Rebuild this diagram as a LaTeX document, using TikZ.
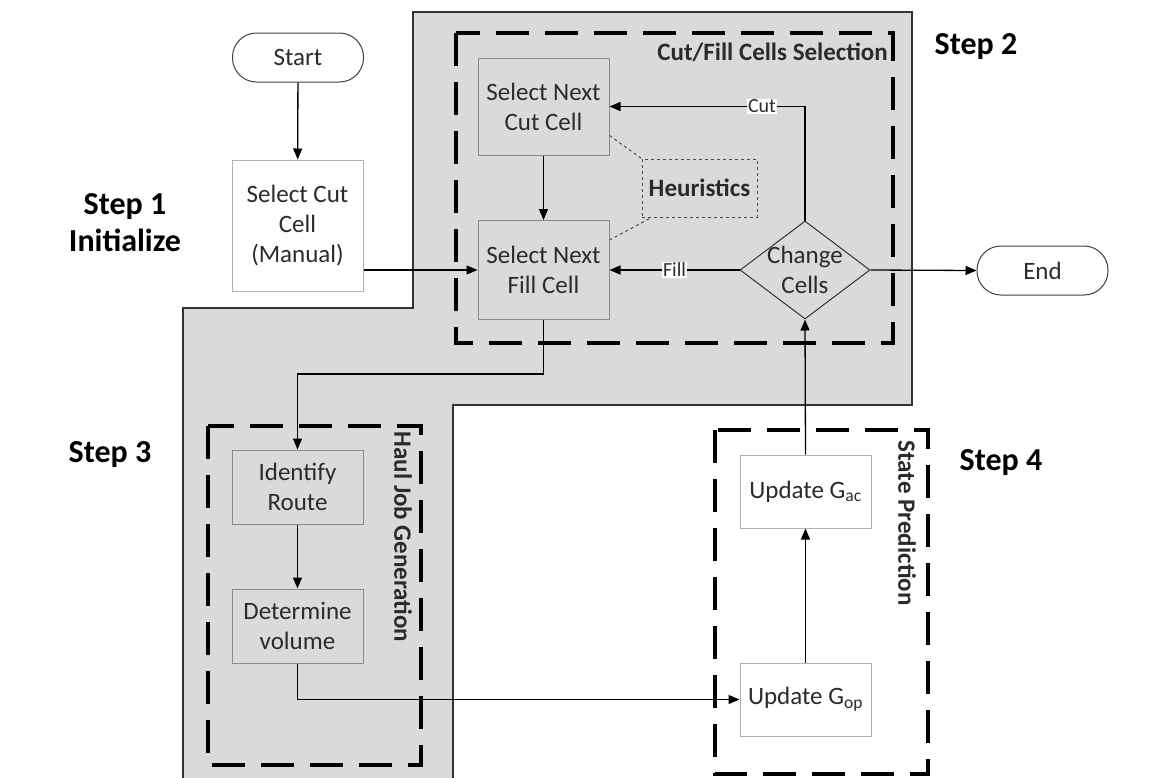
\documentclass[tikz,border=0pt]{standalone}
\usepackage{fontspec}
\setmainfont{Carlito}
\usetikzlibrary{arrows.meta,positioning,shapes.geometric}
\definecolor{RegionGray}{HTML}{D9DADA}
\definecolor{BoxLine}{HTML}{8A8A8A}
\definecolor{TextDark}{HTML}{2B2B2B}

\begin{document}
\begin{tikzpicture}[
	x=1pt, y=-1pt,
	font=\fontsize{25}{30}\selectfont,
	box/.style={draw=BoxLine, line width=1pt, fill=RegionGray, align=center, text=TextDark, minimum width=131pt, inner sep=2pt},
	whitebox/.style={box, fill=white, draw=gray!60},
	terminal/.style={draw=black!75, line width=1pt, rounded corners=24pt, fill=white, minimum width=131pt, minimum height=49pt, text=TextDark},
	group/.style={line width=4pt, dash pattern=on 33pt off 16pt},
	grouptitle/.style={font=\fontsize{25}{30}\selectfont\bfseries, text=TextDark, inner sep=0pt},
	steplabel/.style={font=\fontsize{32}{37}\selectfont\bfseries, align=center},
	arrow/.style={-{Triangle[length=11pt,width=9pt]}, line width=1.3pt},
	branch/.style={fill=white, inner sep=1pt, font=\fontsize{20}{22}\selectfont, text=TextDark}
]
\useasboundingbox (0,0) rectangle (1165,777);

% shaded area of steps 2 and 3
\draw[fill=RegionGray, draw=black!80, line width=1.5pt]
	(413,12) -- (912,12) -- (912,405) -- (453,405) -- (453,790) -- (183,790) -- (183,308) -- (413,308) -- cycle;

% dashed groups
\draw[group] (456,33) rectangle (893,343);
\draw[group] (208,426) rectangle (421,765);
\draw[group] (715,430) rectangle (928,774);
\node[grouptitle, anchor=east] (cftitle) at (888,52) {Cut/Fill Cells Selection};
\node[grouptitle, rotate=-90] (haultitle) at (403,537) {Haul Job Generation};
\node[grouptitle, rotate=-90] (statetitle) at (907,523) {State Prediction};

% step labels
\node[steplabel] (step1) at (125,223) {Step 1\\Initialize};
\node[steplabel] (step2) at (976,47) {Step 2};
\node[steplabel] (step3) at (110,455) {Step 3};
\node[steplabel] (step4) at (1001,463) {Step 4};

% nodes
\node[terminal] (start) at (298,57.5) {Start};
\node[whitebox, minimum height=131pt] (manual) at (297.5,225.5) {Select Cut\\Cell\\(Manual)};
\node[box, minimum height=97pt] (cutcell) at (543.5,106.5) {Select Next\\Cut Cell};
\node[box, minimum height=99pt] (fillcell) at (543.5,270) {Select Next\\Fill Cell};
\node[draw=black!70, dashed, line width=1pt, minimum width=115pt, minimum height=58pt,
	font=\fontsize{25}{30}\selectfont\bfseries, text=TextDark] (heur) at (699.5,188) {Heuristics};
\node[diamond, draw=black!80, line width=1pt, fill=RegionGray, minimum width=130pt, minimum height=98pt, inner sep=0pt,
	label={[align=center, text=TextDark]center:Change\\Cells}] (change) at (805,270) {};
\node[terminal] (endn) at (1042.5,270.5) {End};
\node[box, minimum height=74pt] (route) at (297.5,487) {Identify\\Route};
\node[box, minimum height=74pt] (volume) at (297.5,626) {Determine\\volume};
\node[whitebox, minimum height=73pt] (gac) at (805.5,491.5) {Update G\textsubscript{ac}};
\node[whitebox, minimum height=73pt] (gop) at (805.5,699.5) {Update G\textsubscript{op}};

% connectors
\draw[arrow] (start) -- (manual);
\draw[arrow] (manual.east |- fillcell.west) -- (fillcell.west);
\draw[arrow] (cutcell) -- (fillcell);
\draw[dashed, line width=1pt, black!70] ([yshift=20pt]cutcell.south east) -- (heur.north west);
\draw[dashed, line width=1pt, black!70] ([yshift=-20pt]fillcell.north east) -- ([xshift=10pt]heur.south west);
\draw[arrow] (change.north) |- node[branch, pos=0.61] (cutlbl) {Cut} (cutcell.east);
\draw[arrow] (change.west) -- node[branch] (filllbl) {Fill} (fillcell.east);
\draw[arrow] (change.east) -- (endn.west);
\draw[arrow] (fillcell.south) -- ++(0,54) -| (route.north);
\draw[arrow] (route) -- (volume);
\draw[arrow] (volume.south) |- (gop.west);
\draw[arrow] (gop) -- (gac);
\draw[arrow] (gac.north) -- (change.south);
\end{tikzpicture}
\end{document}
